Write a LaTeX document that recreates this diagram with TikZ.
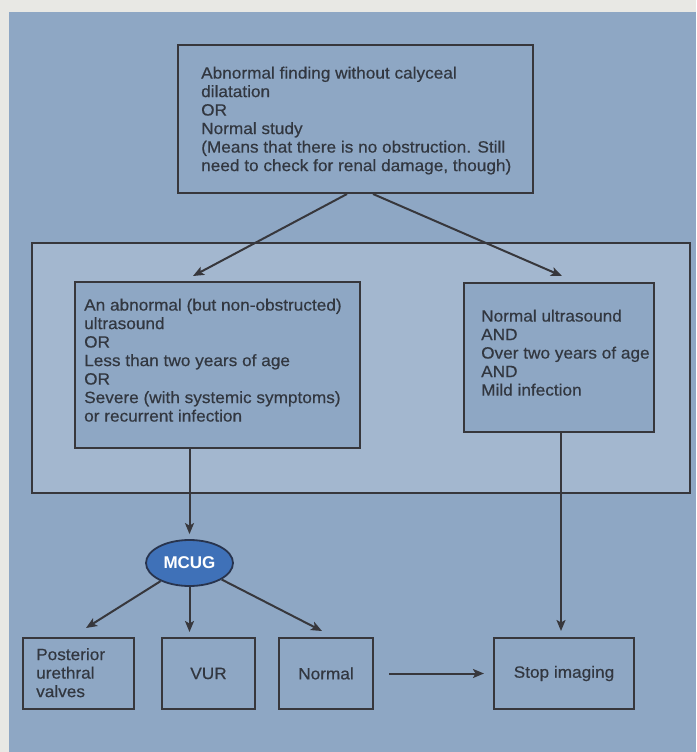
\documentclass[tikz,border=0pt]{standalone}
\usepackage{fontspec}
\setmainfont{Liberation Sans}[FakeStretch=1.05,FakeBold=0.5]
\newfontfamily\mcugfont{Liberation Sans Bold}
\usetikzlibrary{shapes.geometric,arrows.meta,calc}
\definecolor{bgpale}{RGB}{232,232,228}
\definecolor{bgblue}{RGB}{142,167,196}
\definecolor{panelblue}{RGB}{163,183,207}
\definecolor{ink}{RGB}{55,55,60}
\definecolor{txt}{RGB}{50,55,64}
\definecolor{mcugblue}{RGB}{63,113,184}
\definecolor{mcugedge}{RGB}{40,52,78}
\begin{document}
\begin{tikzpicture}[x=1pt,y=-1pt,
  box/.style={draw=ink,line width=2pt,fill=bgblue,rectangle,inner sep=0pt,
    text=txt,font=\fontsize{16.4}{18.5}\selectfont},
  txtblock/.style={anchor=north west,inner sep=0pt,align=left,text=txt,
    font=\fontsize{16.4}{18.5}\selectfont},
  arr/.style={draw=ink,line width=2pt,-{Stealth[length=11pt,width=9pt,inset=2.5pt]}},
  oval/.style={ellipse,draw=mcugedge,line width=1.8pt,fill=mcugblue,inner sep=0pt,
    text=white,font=\fontsize{17}{18.5}\mcugfont}]
\useasboundingbox (0,0) rectangle (696,752);
\fill[bgpale] (0,0) rectangle (696,752);
\fill[bgblue] (9,12) rectangle (696,752);

% boxes
\node[box,minimum width=355pt,minimum height=148pt] (top) at (355.5,119) {};
\node[box,fill=panelblue,minimum width=658pt,minimum height=250pt] (panel) at (361,368) {};
\node[box,minimum width=285pt,minimum height=166pt] (left) at (217.5,365) {};
\node[box,minimum width=190pt,minimum height=149pt] (right) at (559,357.5) {};
\node[oval,minimum width=87pt,minimum height=46pt] (mcug) at (189.5,563) {MCUG};
\node[box,minimum width=111pt,minimum height=71pt] (post) at (78.5,673.5) {};
\node[box,minimum width=93pt,minimum height=71pt] (vur) at (208.5,673.5) {VUR};
\node[box,minimum width=94pt,minimum height=71pt] (norm) at (326,673.5) {Normal};
\node[box,minimum width=140pt,minimum height=71pt] (stop) at (564,673.5) {Stop imaging};

% texts
\node[txtblock] (toptxt) at ($(top.north west)+(24,22.5)$)
  {Abnormal finding without calyceal\\dilatation\\OR\\Normal study\\(Means that there is no obstruction. Still\\need to check for renal damage, though)};
\node[txtblock] (lefttxt) at ($(left.north west)+(10,17.5)$)
  {An abnormal (but non-obstructed)\\ultrasound\\OR\\Less than two years of age\\OR\\Severe (with systemic symptoms)\\or recurrent infection};
\node[txtblock] (righttxt) at ($(right.north west)+(18,27.5)$)
  {Normal ultrasound\\AND\\Over two years of age\\AND\\Mild infection};
\node[txtblock] (posttxt) at ($(post.north west)+(14,11)$)
  {Posterior\\urethral\\valves};

% tip coordinates
\coordinate (tipL) at ($(left.north)+(-24.5,-5)$);
\coordinate (tipR) at ($(right.north)+(3,-6)$);
\coordinate (tipM) at ($(mcug.north)+(0,-5)$);
\coordinate (tipP) at ($(post.north)+(7.5,-9)$);
\coordinate (tipV) at ($(vur.north -| mcug.south)+(0,-5)$);
\coordinate (tipN) at ($(norm.north)+(-4,-6)$);
\coordinate (tipS) at ($(stop.north)+(-3,-6)$);

% connectors
\draw[arr] ($(top.south)+(-8.5,0)$) -- (tipL);
\draw[arr] ($(top.south)+(17.5,0)$) -- (tipR);
\draw[arr] (mcug.north |- left.south) -- (tipM);
\draw[arr] ($(right.south)+(2,0)$) -- (tipS);
\draw[arr] (mcug) -- (tipP);
\draw[arr] (mcug.south) -- (tipV);
\draw[arr] (mcug) -- (tipN);
\draw[arr] ($(norm.east)+(15,0)$) -- ($(stop.west)+(-9,0)$);
\end{tikzpicture}
\end{document}
